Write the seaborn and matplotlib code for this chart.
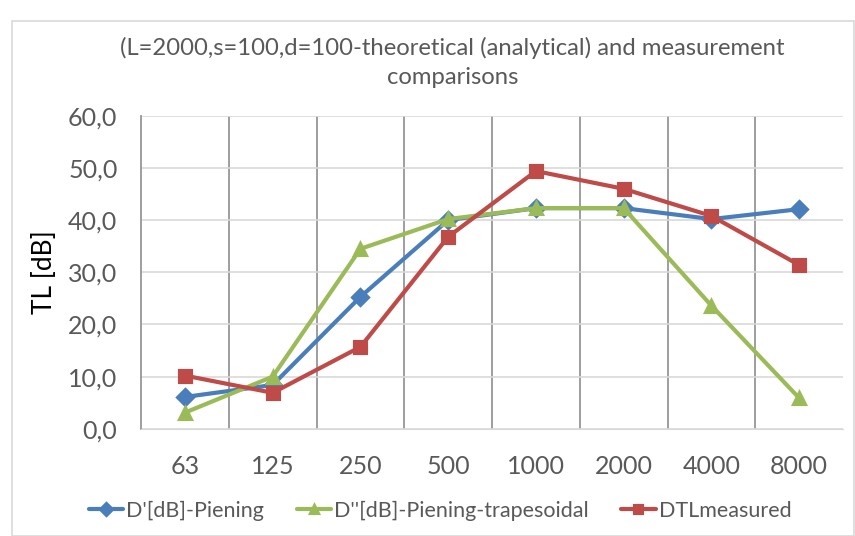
import matplotlib
matplotlib.use('Agg')
import matplotlib.pyplot as plt
import matplotlib.ticker as mticker
import seaborn as sns
import pandas as pd

freqs = ['63', '125', '250', '500', '1000', '2000', '4000', '8000']
piening = [6.1, 8.4, 25.3, 40.0, 42.3, 42.3, 40.2, 42.1]
trapesoidal = [3.1, 10.0, 34.5, 40.2, 42.3, 42.3, 23.6, 5.9]
measured = [10.2, 6.9, 15.7, 36.8, 49.4, 46.0, 40.8, 31.4]

names = ["D'[dB]-Piening", "D''[dB]-Piening-trapesoidal", 'DTLmeasured']
colors = ['#4A7EBB', '#9BBB59', '#BE4B48']
markers = ['D', '^', 's']

df = pd.concat([
    pd.DataFrame({'freq': freqs, 'TL': vals, 'series': name})
    for name, vals in zip(names, [piening, trapesoidal, measured])
])

sns.set_style('white')
plt.rcParams['font.family'] = ['Lato', 'DejaVu Sans']

fig = plt.figure(figsize=(8.55, 5.36), dpi=100)
ax = fig.add_axes([0.165, 0.2, 0.821, 0.584])

sns.pointplot(data=df, x='freq', y='TL', hue='series', order=freqs,
              hue_order=names, palette=colors, markers=markers,
              linestyles='-', linewidth=3, markersize=8.5, ax=ax)

ax.set_xlim(-0.5, 7.5)
ax.set_ylim(0, 60)
ax.yaxis.set_major_locator(mticker.MultipleLocator(10))
ax.yaxis.set_major_formatter(mticker.FuncFormatter(lambda v, p: f'{v:.1f}'.replace('.', ',')))
ax.xaxis.set_minor_locator(mticker.FixedLocator([i + 0.5 for i in range(7)]))
ax.grid(axis='y', which='major', color='#D9D9D9', lw=1.2)
ax.grid(axis='x', which='minor', color='#969696', lw=1.3)
ax.set_axisbelow(True)
for s in ['top', 'right']:
    ax.spines[s].set_visible(False)
ax.spines['left'].set_color('#969696')
ax.spines['left'].set_linewidth(1.3)
ax.spines['bottom'].set_color('#D9D9D9')
ax.tick_params(axis='both', which='both', length=0, labelsize=18, colors='#595959')
ax.tick_params(axis='x', pad=19)
ax.tick_params(axis='y', pad=17)
ax.set_xlabel('')
ax.set_ylabel('TL [dB]', fontsize=19, color='black', labelpad=8)

fig.text(0.529, 0.884, '(L=2000,s=100,d=100-theoretical (analytical) and measurement\ncomparisons',
         fontsize=17.2, color='#595959', ha='center', va='center', linespacing=1.45)

leg = ax.legend(loc='center', bbox_to_anchor=(0.426, -0.262), ncol=3, frameon=False,
                fontsize=15.5, labelcolor='#595959', handlelength=1.6, columnspacing=1.5,
                handletextpad=0.15, markerscale=0.7)

fig.patches.append(plt.Rectangle((0.014, 0.0), 0.985, 0.96, transform=fig.transFigure,
                                 fill=False, edgecolor='#D9D9D9', lw=1.2))

fig.savefig('out.png', dpi=100)
